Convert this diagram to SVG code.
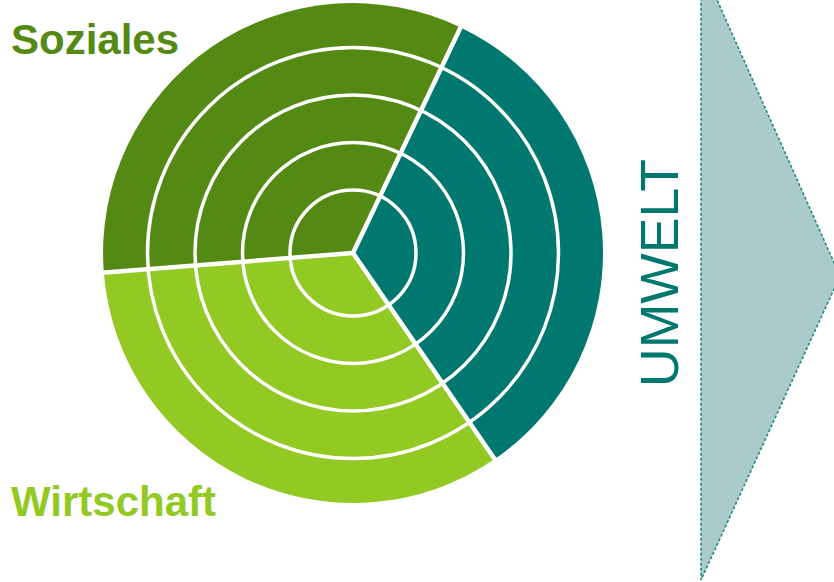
<svg xmlns="http://www.w3.org/2000/svg" width="834" height="582" viewBox="0 0 834 582">
  <style>
    .lbl { font-family: "Liberation Sans", Arial, sans-serif; font-weight: bold; font-size: 42px; }
    .ring { fill: none; stroke: #ffffff; stroke-width: 3.5; }
    .sep { stroke: #ffffff; stroke-width: 4.5; stroke-linecap: butt; }
  </style>
  <rect width="834" height="582" fill="#ffffff"/>
  <g id="arrow">
    <polygon points="701,-36 840,276 701,580" fill="#ABCACA" stroke="#1F8B83" stroke-width="1.6" stroke-dasharray="3 2"/>
    <text x="0" y="0" transform="translate(678,387) rotate(-90)" font-family="Liberation Sans, Arial, sans-serif" font-size="53.5" fill="#00776F">UMWELT</text>
  </g>
  <g id="umwelt">
    <path d="M353,253 L460.6,27.4 A250,250 0 0 1 494.6,459.1 Z" fill="#00776F"/>
  </g>
  <g id="wirtschaft">
    <path d="M353,253 L494.6,459.1 A250,250 0 0 1 103.8,272.6 Z" fill="#93C923"/>
    <text class="lbl" x="11" y="516" fill="#93C923">Wirtschaft</text>
  </g>
  <g id="soziales">
    <path d="M353,253 L103.8,272.6 A250,250 0 0 1 460.6,27.4 Z" fill="#548A14"/>
    <text class="lbl" x="11" y="54" fill="#548A14">Soziales</text>
  </g>
  <g id="connectors">
    <circle class="ring" cx="353" cy="253" r="63"/>
    <circle class="ring" cx="353" cy="253" r="110.5"/>
    <circle class="ring" cx="353" cy="253" r="158"/>
    <circle class="ring" cx="353" cy="253" r="205.5"/>
    <line class="sep" x1="353" y1="253" x2="461.5" y2="25.5"/>
    <line class="sep" x1="353" y1="253" x2="101.8" y2="272.8"/>
    <line class="sep" x1="353" y1="253" x2="495.8" y2="460.8"/>
  </g>
</svg>
